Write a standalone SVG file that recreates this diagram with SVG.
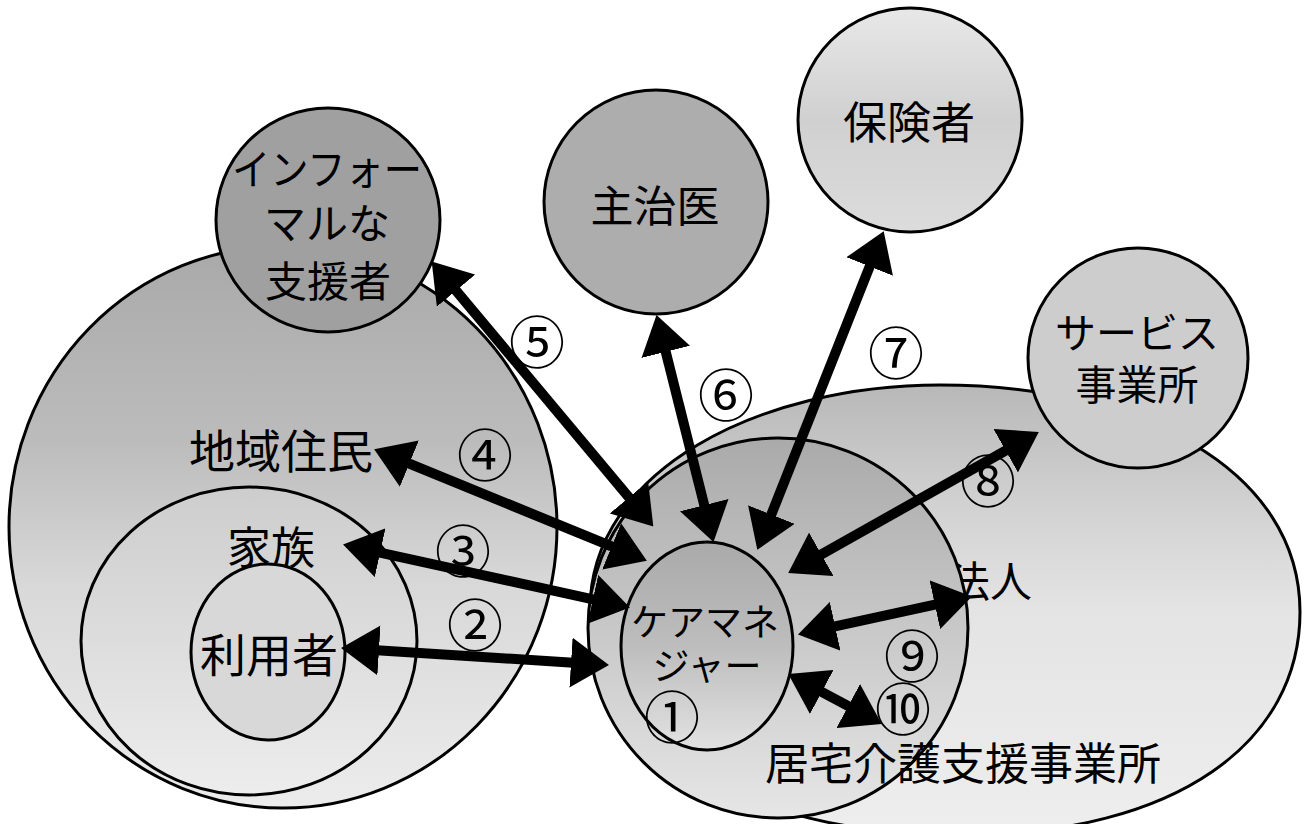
<svg xmlns="http://www.w3.org/2000/svg" width="1305" height="824" viewBox="0 0 1305 824">
<style>
.shape{stroke:#000;stroke-width:3}
.lbl{font-family:"Noto Sans CJK JP","Noto Sans CJK SC",sans-serif;fill:#000;text-anchor:middle;dominant-baseline:central}
.num{font-family:"Noto Sans CJK JP","Noto Sans CJK SC",sans-serif;fill:#000;text-anchor:middle;dominant-baseline:central;font-size:56px}
.arr{stroke:#000;stroke-width:10;fill:none;marker-start:url(#ah);marker-end:url(#ah)}
</style>
<defs>
<marker id="ah" viewBox="0 0 38 50" refX="6" refY="25" markerWidth="38" markerHeight="50" markerUnits="userSpaceOnUse" orient="auto-start-reverse">
<path d="M0,0 L38,25 L0,50 Z" fill="#000"/>
</marker>
<linearGradient id="gLeft" x1="0" y1="0" x2="0" y2="1">
<stop offset="0" stop-color="#a9a9a9"/><stop offset="0.35" stop-color="#bcbcbc"/><stop offset="0.6" stop-color="#d8d8d8"/><stop offset="1" stop-color="#ececec"/>
</linearGradient>
<linearGradient id="gFam" x1="0" y1="0" x2="0" y2="1">
<stop offset="0" stop-color="#cdcdcd"/><stop offset="1" stop-color="#ededed"/>
</linearGradient>
<linearGradient id="gIns" x1="0" y1="0" x2="0" y2="1">
<stop offset="0" stop-color="#e8e8e8"/><stop offset="0.5" stop-color="#d0d0d0"/><stop offset="1" stop-color="#dcdcdc"/>
</linearGradient>
<linearGradient id="gCorp" x1="0" y1="0" x2="0" y2="1">
<stop offset="0" stop-color="#b8b8b8"/><stop offset="0.25" stop-color="#d0d0d0"/><stop offset="0.5" stop-color="#e4e4e4"/><stop offset="1" stop-color="#eeeeee"/>
</linearGradient>
<linearGradient id="gOff" x1="0" y1="0" x2="0" y2="1">
<stop offset="0" stop-color="#aaaaaa"/><stop offset="0.55" stop-color="#cbcbcb"/><stop offset="1" stop-color="#e6e6e6"/>
</linearGradient>
<linearGradient id="gCm" x1="0" y1="0" x2="0" y2="1">
<stop offset="0" stop-color="#aaaaaa"/><stop offset="0.5" stop-color="#bdbdbd"/><stop offset="1" stop-color="#e2e2e2"/>
</linearGradient>
</defs>
<rect width="1305" height="824" fill="#fff"/>

<g id="community">
<ellipse class="shape" cx="283" cy="527" rx="274" ry="281" fill="url(#gLeft)"/>
<text class="lbl" x="281" y="448" font-size="46">地域住民</text>
</g>
<g id="family">
<ellipse class="shape" cx="249" cy="641" rx="168" ry="154" fill="url(#gFam)"/>
<text class="lbl" x="271" y="545" font-size="44">家族</text>
</g>
<g id="user">
<ellipse class="shape" cx="268" cy="652" rx="77" ry="88" fill="#d8d8d8"/>
<text class="lbl" x="269" y="652" font-size="46">利用者</text>
</g>
<g id="informal">
<circle class="shape" cx="328" cy="220" r="112" fill="#a0a0a0"/>
<text class="lbl" font-size="42"><tspan x="327" y="166" textLength="190" lengthAdjust="spacingAndGlyphs">インフォー</tspan><tspan x="327" y="220">マルな</tspan><tspan x="328" y="278">支援者</tspan></text>
</g>
<g id="doctor">
<circle class="shape" cx="656" cy="202" r="112" fill="#adadad"/>
<text class="lbl" x="655" y="203" font-size="43">主治医</text>
</g>
<g id="insurer">
<circle class="shape" cx="910" cy="120" r="112" fill="url(#gIns)"/>
<text class="lbl" x="909" y="120" font-size="44">保険者</text>
</g>
<g id="corporation">
<path class="shape" d="M590,610 C590,470 760,385 940,385 C1140,385 1300,470 1300,612 C1300,740 1180,835 960,835 C740,835 590,740 590,610 Z" fill="url(#gCorp)"/>
<text class="lbl" x="990" y="578" font-size="42">法人</text>
</g>
<g id="service">
<circle class="shape" cx="1138" cy="358" r="110" fill="#cdcdcd"/>
<text class="lbl" font-size="41"><tspan x="1137" y="330">サービス</tspan><tspan x="1137" y="382">事業所</tspan></text>
</g>
<g id="office">
<circle class="shape" cx="778" cy="628" r="190" fill="url(#gOff)"/>
<text class="lbl" x="963" y="761" font-size="44">居宅介護支援事業所</text>
</g>
<g id="caremanager">
<ellipse class="shape" cx="707" cy="646" rx="86" ry="104" fill="url(#gCm)"/>
<text class="lbl" font-size="37"><tspan x="705" y="620">ケアマネ</tspan><tspan x="707" y="664">ジャー</tspan></text>
</g>

<g id="connectors">
<path class="arr" d="M373,650 L577,663"/>
<path class="arr" d="M374.3,551.4 L598.7,600.6"/>
<path class="arr" d="M403.8,461.4 L617.2,548.6"/>
<path class="arr" d="M452.2,286 L632.8,502"/>
<path class="arr" d="M664.3,346.1 L705.7,510.9"/>
<path class="arr" d="M871.9,260.9 L769.1,520.1"/>
<path class="arr" d="M1010.9,447.7 L816.1,557.3"/>
<path class="arr" d="M940.7,603.4 L829.3,627.6"/>
<path class="arr" d="M816.5,689.1 L853.5,708.9"/>
</g>

<g id="numbers">
<text class="num" x="672" y="713">①</text>
<text class="num" x="475" y="621">②</text>
<text class="num" x="463" y="547">③</text>
<text class="num" x="485" y="451">④</text>
<text class="num" x="537" y="338">⑤</text>
<text class="num" x="726" y="391">⑥</text>
<text class="num" x="896" y="349">⑦</text>
<text class="num" x="988" y="477">⑧</text>
<text class="num" x="912" y="652">⑨</text>
<text class="num" x="903" y="705">⑩</text>
</g>
</svg>
